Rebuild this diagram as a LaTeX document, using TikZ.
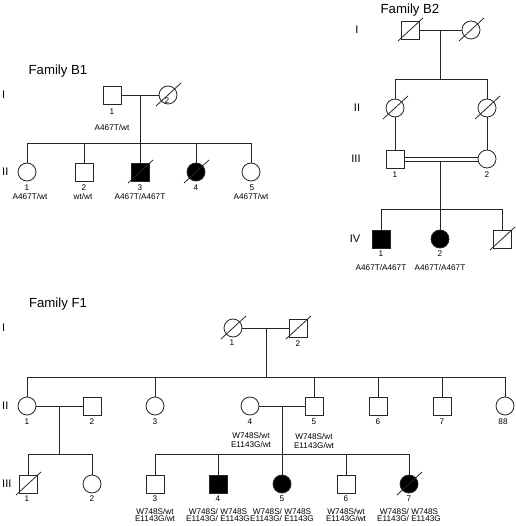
\documentclass[tikz,border=0pt]{standalone}
\usepackage{fontspec}
\setmainfont{Liberation Sans}
\newcommand\decd[1]{\draw[ln] ([shift={(-12,11)}]#1.center) -- ([shift={(13,-12)}]#1.center);}
\begin{document}
\begin{tikzpicture}[x=1pt,y=-1pt,
  ln/.style={draw=black!85,line width=0.8pt},
  male/.style={ln,rectangle,minimum size=18pt,inner sep=0pt,fill=white},
  female/.style={ln,circle,minimum size=18pt,inner sep=0pt,fill=white},
  aff/.style={fill=black},
  lab/.style={font=\fontsize{8.2}{8.2}\selectfont,inner sep=0pt},
  geno/.style={font=\fontsize{8.2}{7.6}\selectfont,inner sep=0pt,align=center},
  geno2/.style={font=\fontsize{8.2}{9.5}\selectfont,inner sep=0pt,align=center},
  gen/.style={font=\fontsize{11}{11}\selectfont,inner sep=0pt},
  title/.style={font=\fontsize{13.2}{13.2}\selectfont,inner sep=0pt}]
\useasboundingbox (0,0) rectangle (515,526);

% ================= Family B1 =================
\node[title] (tb1) at (58,71) {Family B1};
\node[gen,anchor=west] (b1gI) at (2,95) {I};
\node[gen,anchor=west] (b1gII) at (2,172) {II};
\node[male] (b1i1) at (112,95) {};
\node[female] (b1i2) at (168,95) {};
\coordinate (b1m) at (140,95);
\coordinate (b1s) at (140,143);
\node[female] (b1ii1) at (27,172) {};
\node[male] (b1ii2) at (84,172) {};
\node[male,aff] (b1ii3) at (140,172) {};
\node[female,aff] (b1ii4) at (196,172) {};
\node[female] (b1ii5) at (251,172) {};
\draw[ln] (b1i1.east) -- (b1i2.west);
\draw[ln] (b1m) -- (b1ii3.north);
\draw[ln] (b1ii1.north |- b1s) -- (b1ii5.north |- b1s);
\foreach \n in {b1ii1,b1ii2,b1ii4,b1ii5} \draw[ln] (\n.north |- b1s) -- (\n.north);
\decd{b1i2}
\decd{b1ii3}
\decd{b1ii4}
\node[lab] (b1n11) at (112,112) {1};
\node[lab] (b1n12) at (167,101) {2};
\node[lab] (b1g11) at (112,128) {A467T/wt};
\node[lab] (b1n21) at (27,188) {1};
\node[lab] (b1n22) at (84,188) {2};
\node[lab] (b1n23) at (140,188) {3};
\node[lab] (b1n24) at (196,188) {4};
\node[lab] (b1n25) at (252,188) {5};
\node[lab] (b1g21) at (30,197) {A467T/wt};
\node[lab] (b1g22) at (83,197) {wt/wt};
\node[lab] (b1g23) at (140,197) {A467T/A467T};
\node[lab] (b1g25) at (251,197) {A467T/wt};

% ================= Family B2 =================
\node[title] (tb2) at (410,10) {Family B2};
\node[gen] (b2gI) at (357,30) {I};
\node[gen] (b2gII) at (357,108) {II};
\node[gen] (b2gIII) at (356,159) {III};
\node[gen] (b2gIV) at (355,239) {IV};
\node[male] (b2i1) at (410,30) {};
\node[female] (b2i2) at (471,30) {};
\coordinate (b2m) at (440,30);
\coordinate (b2s) at (440,79);
\node[female] (b2ii1) at (395,108) {};
\node[female] (b2ii2) at (487,108) {};
\node[male] (b2iii1) at (395,159) {};
\node[female] (b2iii2) at (487,159) {};
\coordinate (b2m2) at (440,159);
\coordinate (b2s2) at (440,209);
\node[male,aff] (b2iv1) at (381,239) {};
\node[female,aff] (b2iv2) at (440,239) {};
\node[male] (b2iv3) at (502,239) {};
\draw[ln] (b2i1.east) -- (b2i2.west);
\draw[ln] (b2m) -- (b2s);
\draw[ln] (b2ii1.north |- b2s) -- (b2ii2.north |- b2s);
\draw[ln] (b2ii1.north |- b2s) -- (b2ii1.north);
\draw[ln] (b2ii2.north |- b2s) -- (b2ii2.north);
\draw[ln] (b2ii1.south) -- (b2iii1.north);
\draw[ln] (b2ii2.south) -- (b2iii2.north);
\draw[ln] ([yshift=2pt]b2iii1.east) -- ([yshift=2pt]b2iii2.west);
\draw[ln] ([yshift=-2pt]b2iii1.east) -- ([yshift=-2pt]b2iii2.west);
\draw[ln] ([yshift=-2pt]b2m2) -- (b2iv2.north);
\draw[ln] (b2iv1.north |- b2s2) -- (b2iv3.north |- b2s2);
\draw[ln] (b2iv1.north |- b2s2) -- (b2iv1.north);
\draw[ln] (b2iv3.north |- b2s2) -- (b2iv3.north);
\decd{b2i1}
\decd{b2i2}
\decd{b2ii1}
\decd{b2ii2}
\decd{b2iv3}
\node[lab] (b2n31) at (395,175) {1};
\node[lab] (b2n32) at (487,175) {2};
\node[lab] (b2n41) at (381,254) {1};
\node[lab] (b2n42) at (440,254) {2};
\node[lab] (b2g41) at (381,268) {A467T/A467T};
\node[lab] (b2g42) at (440,268) {A467T/A467T};

% ================= Family F1 =================
\node[title] (tf1) at (58,304) {Family F1};
\node[gen,anchor=west] (f1gI) at (2,328) {I};
\node[gen,anchor=west] (f1gII) at (2,406) {II};
\node[gen,anchor=west] (f1gIII) at (2,484) {III};
\node[female] (f1i1) at (233,328) {};
\node[male] (f1i2) at (298,328) {};
\coordinate (f1m) at (266,328);
\coordinate (f1s) at (266,377);
\draw[ln] (f1i1.east) -- (f1i2.west);
\draw[ln] (f1m) -- (f1s);
\decd{f1i1}
\decd{f1i2}
\node[lab] (f1n11) at (232,343) {1};
\node[lab] (f1n12) at (298,344) {2};
% generation II
\node[female] (f1ii1) at (27,406) {};
\node[male] (f1ii2) at (92,406) {};
\node[female] (f1ii3) at (155,406) {};
\node[female] (f1ii4) at (250,406) {};
\node[male] (f1ii5) at (314,406) {};
\node[male] (f1ii6) at (378,406) {};
\node[male] (f1ii7) at (442,406) {};
\node[female] (f1ii8) at (505,406) {};
\draw[ln] (f1ii1.north |- f1s) -- (f1ii8.north |- f1s);
\foreach \n in {f1ii1,f1ii3,f1ii5,f1ii6,f1ii7,f1ii8} \draw[ln] (\n.north |- f1s) -- (\n.north);
\draw[ln] (f1ii1.east) -- (f1ii2.west);
\draw[ln] (f1ii4.east) -- (f1ii5.west);
\node[lab] (f1n21) at (27,422) {1};
\node[lab] (f1n22) at (92,422) {2};
\node[lab] (f1n23) at (155,422) {3};
\node[lab] (f1n24) at (250,422) {4};
\node[lab] (f1n25) at (314,422) {5};
\node[lab] (f1n26) at (378,422) {6};
\node[lab] (f1n27) at (442,422) {7};
\node[lab] (f1n28) at (503,422) {88};
\node[geno2] (f1g24) at (251,440) {W748S/wt\\E1143G/wt};
\node[geno2] (f1g25) at (314,441) {W748S/wt\\E1143G/wt};
% generation III, left branch
\coordinate (f1m2) at (59,406);
\coordinate (f1s2) at (59,454);
\node[male] (f1iii1) at (28,484) {};
\node[female] (f1iii2) at (92,484) {};
\draw[ln] (f1m2) -- (f1s2);
\draw[ln] (f1iii1.north |- f1s2) -- (f1iii2.north |- f1s2);
\draw[ln] (f1iii1.north |- f1s2) -- (f1iii1.north);
\draw[ln] (f1iii2.north |- f1s2) -- (f1iii2.north);
\decd{f1iii1}
\node[lab] (f1n31) at (27,499) {1};
\node[lab] (f1n32) at (92,499) {2};
% generation III, right branch
\coordinate (f1m3) at (282,406);
\coordinate (f1s3) at (282,454);
\node[male] (f1iii3) at (155,484) {};
\node[male,aff] (f1iii4) at (218,484) {};
\node[female,aff] (f1iii5) at (282,484) {};
\node[male] (f1iii6) at (346,484) {};
\node[female,aff] (f1iii7) at (409,484) {};
\draw[ln] (f1m3) -- (f1iii5.north);
\draw[ln] (f1iii3.north |- f1s3) -- (f1iii7.north |- f1s3);
\foreach \n in {f1iii3,f1iii4,f1iii6,f1iii7} \draw[ln] (\n.north |- f1s3) -- (\n.north);
\decd{f1iii7}
\node[lab] (f1n33) at (155,499) {3};
\node[lab] (f1n34) at (218,499) {4};
\node[lab] (f1n35) at (282,499) {5};
\node[lab] (f1n36) at (346,499) {6};
\node[lab] (f1n37) at (409,499) {7};
\node[geno] (f1g33) at (155,515) {W748S/wt\\E1143G/wt};
\node[geno] (f1g34) at (218,515) {W748S/ W748S\\E1143G/ E1143G};
\node[geno] (f1g35) at (282,515) {W748S/ W748S\\E1143G/ E1143G};
\node[geno] (f1g36) at (346,515) {W748S/wt\\E1143G/wt};
\node[geno] (f1g37) at (409,515) {W748S/ W748S\\E1143G/ E1143G};
\end{tikzpicture}
\end{document}
